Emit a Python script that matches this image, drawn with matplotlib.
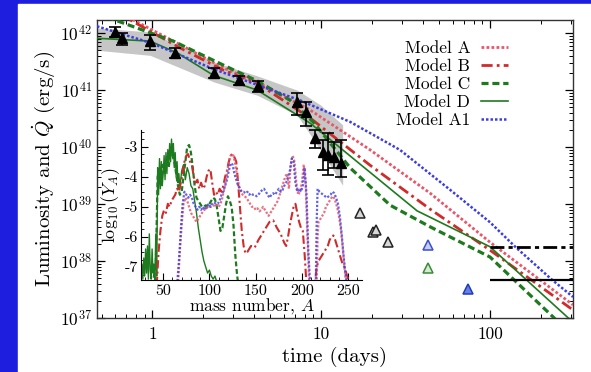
import numpy as np
import matplotlib.pyplot as plt
from matplotlib.patches import Rectangle
from matplotlib.ticker import LogLocator, NullFormatter, MultipleLocator

plt.rcParams['font.family'] = 'cmr10'
plt.rcParams['mathtext.fontset'] = 'cm'
plt.rcParams['axes.formatter.use_mathtext'] = True
plt.rcParams['axes.unicode_minus'] = False

# ---- light curves: time (days) and log10 L (erg/s)
t_A = [0.47, 0.772, 1.52, 2.63, 4.18, 8.6, 19.5, 44.2, 100, 310]
L_A = [42.56, 42.23, 41.77, 41.39, 41.14, 40.65, 39.95, 39.19, 38.33, 37.23]

t_B = [0.47, 0.741, 1.46, 2.63, 4.18, 8.6, 19.5, 44.2, 100, 310]
L_B = [42.55, 42.23, 41.74, 41.35, 41.12, 40.51, 39.68, 38.91, 38.19, 37.14]

t_C = [0.47, 0.60, 1.33, 2.63, 4.18, 6.56, 8.97, 14.9, 25.6, 44.2, 100, 236, 310]
L_C = [42.34, 42.23, 41.86, 41.44, 41.16, 40.82, 40.44, 39.63, 38.98, 38.60, 38.07, 37.02, 36.68]

t_D = [0.47, 0.97, 1.41, 2.30, 4.18, 8.6, 17.0, 37.0, 100, 286, 310]
L_D = [41.91, 41.86, 41.65, 41.26, 41.0, 40.42, 39.70, 38.88, 38.25, 37.02, 36.93]

t_A1 = [0.47, 1.0, 2.3, 4.2, 7.5, 14.9, 29.3, 58, 100, 141, 233, 310]
L_A1 = [42.12, 41.82, 41.37, 41.09, 40.82, 40.44, 39.95, 39.25, 38.68, 38.25, 37.67, 37.37]

# grey band around the bolometric light curve
t_band = [0.47, 0.97, 2.33, 4.18, 7.2, 9.9, 13.4]
band_hi = [42.09, 42.02, 41.49, 41.25, 41.0, 40.74, 40.39]
band_lo = [41.70, 41.61, 41.14, 40.91, 40.56, 39.95, 39.33]

# observed points (log10 L) with error bar ends
t_obs = [0.60, 0.66, 0.97, 1.37, 2.33, 3.27, 4.24, 7.21, 8.15, 9.2, 10.3, 11.0, 11.9, 13.1]
L_obs = [42.02, 41.91, 41.86, 41.65, 41.30, 41.18, 41.07, 40.79, 40.61, 40.16, 39.91, 39.86, 39.82, 39.72]
L_obs_lo = [41.93, 41.79, 41.70, 41.56, 41.21, 41.09, 40.96, 40.56, 40.37, 39.98, 39.60, 39.51, 39.63, 39.47]
L_obs_hi = [42.11, 42.00, 41.96, 41.74, 41.39, 41.25, 41.16, 40.95, 40.79, 40.30, 40.12, 40.25, 40.09, 40.12]

# later open triangles
t_late_k = [17.0, 20.3, 21.1, 24.9]
L_late_k = [38.84, 38.51, 38.54, 38.33]
t_late_b = [43.0]
L_late_b = [38.28]
t_late_g = [43.0]
L_late_g = [37.88]
t_late_b2 = [74.1]
L_late_b2 = [37.51]

# horizontal limits from t = 100 d
L_lim_dashdot = 38.25
L_lim_solid = 37.67
t_lim_start = 100

# ---- inset: final abundances log10(Y_A)
A_D = [26, 27, 28, 29, 30, 31, 32, 33, 34, 35,
       36, 37, 38, 39, 40, 41, 42, 43, 44, 45,
       46, 47, 48, 49, 50, 51, 52, 53, 54, 55,
       56, 57, 58, 59, 60, 61, 62, 63, 64, 65,
       66, 67, 68, 70, 72, 74, 76, 78, 80, 82,
       84, 86, 88, 90, 92, 94, 96, 98, 100, 102,
       104, 106, 108, 110]
Y_D = [-7.3, -6.9, -7.4, -6.7, -7.3, -6.4, -7.2, -6.3, -7.4, -5.9,
       -7.1, -7.4, -6.4, -7.2, -6.9, -7.5, -5.9, -7.3, -3.7, -4.6,
       -3.4, -4.4, -3.5, -4.3, -3.9, -3.3, -4.1, -3.2, -3.9, -3.1,
       -3.6, -2.9, -3.5, -2.75, -3.3, -2.9, -3.7, -3.2, -4.0, -3.5,
       -4.2, -3.9, -4.4, -3.8, -3.6, -4.1, -3.7, -3.9, -4.3, -4.4,
       -4.8, -5.2, -5.7, -6.1, -6.5, -6.8, -7.0, -7.2, -7.1, -7.3,
       -7.4, -7.3, -7.5, -7.6]

A_C = [38, 40, 42, 43, 44, 46, 48, 50, 52, 54,
       56, 58, 60, 62, 64, 66, 68, 70, 72, 74,
       76, 78, 80, 82, 84, 86, 88, 90, 92, 94,
       96, 98, 100, 102, 104, 106, 108, 110, 112, 114,
       116, 118, 120, 122, 124, 126, 128, 130, 132]
Y_C = [-7.6, -7.3, -6.9, -5.5, -4.0, -3.8, -4.1, -3.6, -3.9, -3.4,
       -3.7, -3.1, -3.3, -3.5, -3.9, -4.3, -4.6, -4.5, -4.0, -3.5,
       -3.0, -2.95, -3.2, -3.7, -4.3, -4.7, -4.8, -4.9, -5.0, -5.0,
       -4.95, -5.0, -4.9, -4.8, -4.7, -4.75, -5.0, -5.4, -5.8, -5.7,
       -5.3, -4.9, -4.65, -4.8, -5.0, -5.6, -6.6, -7.3, -7.7]

A_B = [43, 45, 47, 49, 51, 53, 55, 57, 59, 61,
       63, 65, 67, 69, 71, 73, 75, 77, 79, 81,
       83, 85, 87, 89, 91, 93, 95, 97, 99, 101,
       103, 105, 107, 109, 111, 113, 115, 117, 119, 121,
       123, 125, 127, 129, 131, 133, 135, 137, 139, 141,
       145, 149, 153, 157, 161, 165, 169, 173, 177, 181,
       183, 185, 187, 189, 191, 193, 195, 197, 199, 201,
       203, 205, 214, 216, 218, 220, 222, 224, 226, 228,
       230, 232, 234, 236, 238, 240, 242, 244, 246, 248,
       250, 252]
Y_B = [-7.6, -6.5, -5.8, -5.3, -5.1, -5.2, -4.9, -5.0, -4.8, -4.7,
       -4.6, -4.4, -4.5, -4.2, -3.9, -3.5, -3.3, -3.25, -3.5, -3.6,
       -4.0, -4.2, -4.1, -4.4, -4.2, -4.4, -4.3, -4.0, -3.8, -3.75,
       -4.2, -4.6, -4.5, -4.6, -4.4, -4.5, -4.3, -4.0, -3.8, -3.5,
       -3.3, -3.25, -3.35, -3.5, -4.2, -5.0, -5.8, -6.3, -6.55, -6.5,
       -6.3, -6.35, -6.1, -5.9, -5.7, -5.5, -5.45, -5.7, -5.9, -6.2,
       -6.3, -6.0, -5.6, -5.3, -5.0, -4.9, -5.2, -5.5, -5.7, -5.8,
       -6.6, -7.6, -7.6, -7.0, -6.8, -6.7, -6.6, -6.5, -6.4, -6.3,
       -6.1, -6.0, -5.95, -6.1, -6.3, -6.5, -6.7, -6.9, -7.0, -7.2,
       -7.4, -7.6]

A_A = [66, 68, 70, 72, 74, 76, 78, 80, 82, 84,
       86, 88, 90, 92, 94, 96, 98, 100, 102, 104,
       106, 108, 110, 112, 114, 116, 118, 120, 122, 124,
       126, 128, 130, 132, 134, 136, 138, 140, 142, 144,
       146, 148, 150, 152, 154, 156, 158, 160, 162, 164,
       166, 168, 170, 172, 174, 176, 178, 180, 182, 184,
       186, 188, 190, 192, 194, 196, 198, 200, 202, 204,
       206, 208, 216, 217, 218, 220, 222, 224, 226, 228,
       230, 232, 234, 236, 238, 240, 242, 244, 246, 248]
Y_A = [-7.6, -6.5, -5.6, -4.9, -4.7, -4.8, -5.0, -5.2, -5.3, -5.4,
       -5.5, -5.4, -5.3, -5.2, -5.1, -5.1, -5.0, -5.0, -5.0, -5.0,
       -4.9, -4.95, -5.0, -4.9, -4.7, -4.4, -4.1, -3.7, -3.35, -3.25,
       -3.3, -3.6, -4.0, -4.3, -4.5, -4.6, -4.65, -4.7, -4.8, -4.9,
       -5.0, -5.0, -5.1, -5.05, -5.15, -5.1, -5.0, -5.1, -5.2, -5.3,
       -5.2, -5.1, -5.0, -4.9, -4.8, -4.6, -4.4, -4.2, -4.0, -3.9,
       -4.4, -3.6, -3.3, -3.5, -4.2, -4.6, -4.5, -4.2, -3.6, -4.2,
       -6.0, -7.6, -7.6, -6.0, -5.5, -5.4, -5.3, -5.2, -5.0, -4.9,
       -4.8, -4.7, -4.65, -4.8, -5.0, -5.3, -5.7, -6.3, -7.0, -7.6]

A_A1 = [65, 67, 69, 71, 73, 75, 77, 79, 81, 83,
        85, 87, 89, 91, 93, 95, 97, 99, 101, 103,
        105, 107, 109, 111, 113, 115, 117, 119, 121, 123,
        125, 127, 129, 131, 133, 135, 137, 139, 141, 143,
        145, 147, 149, 151, 153, 155, 157, 159, 161, 163,
        165, 167, 169, 171, 173, 175, 177, 179, 181, 183,
        185, 187, 189, 191, 193, 195, 197, 199, 201, 203,
        205, 207, 209, 215, 216, 217, 219, 221, 223, 225,
        227, 229, 231, 233, 235, 237, 239, 241, 243, 245,
        247, 249]
Y_A1 = [-7.6, -6.8, -5.8, -4.9, -4.5, -4.6, -4.7, -4.6, -4.7, -4.9,
        -5.0, -5.1, -5.0, -5.1, -5.0, -5.1, -5.0, -4.9, -5.0, -4.9,
        -4.85, -4.9, -4.9, -4.8, -4.6, -4.5, -4.3, -4.1, -3.8, -3.55,
        -3.6, -3.9, -4.1, -4.3, -4.4, -4.5, -4.5, -4.55, -4.5, -4.6,
        -4.55, -4.6, -4.6, -4.65, -4.6, -4.5, -4.45, -4.4, -4.5, -4.6,
        -4.7, -4.6, -4.55, -4.6, -4.5, -4.4, -4.5, -4.45, -4.3, -4.2,
        -4.0, -3.8, -3.4, -3.5, -4.2, -4.5, -4.4, -4.5, -4.3, -3.7,
        -4.6, -6.5, -7.6, -7.6, -5.5, -4.4, -4.5, -4.55, -4.6, -4.65,
        -4.7, -4.65, -4.6, -4.5, -4.55, -4.7, -4.9, -5.3, -5.9, -6.6,
        -7.2, -7.6]

ins_yticks = [-3, -4, -5, -6, -7]
ins_xticks = [50, 100, 150, 200, 250]

red_light = '#e8566a'
red_dark = '#d02a2a'
green = '#1e7a1e'
blue = '#3c3ce6'

fig = plt.figure(figsize=(5.91, 3.72), dpi=100)
fig.patch.set_facecolor('#1e1ede')
fig.add_artist(Rectangle((18 / 591, 0), 1 - 18 / 591, 368 / 372,
                         transform=fig.transFigure, color='white', zorder=-5))

ax = fig.add_axes([97 / 591, 54 / 372, 476 / 591, 298 / 372])
ax.set_xscale('log')
ax.set_yscale('log')

p = lambda v: 10 ** np.asarray(v)

ax.fill_between(t_band, p(band_lo), p(band_hi), color='#b4b4b4', alpha=0.75, lw=0, zorder=1)

ax.plot(t_A, p(L_A), color=red_light, ls=(0, (1, 0.8)), lw=2.0, label='Model A', zorder=3)
ax.plot(t_B, p(L_B), color=red_dark, ls=(0, (4, 1.5, 1, 1.5)), lw=2.0, label='Model B', zorder=3)
ax.plot(t_C, p(L_C), color=green, ls=(0, (2.2, 1.2)), lw=2.3, label='Model C', zorder=3)
ax.plot(t_D, p(L_D), color=green, ls='-', lw=1.2, label='Model D', zorder=3)
ax.plot(t_A1, p(L_A1), color=blue, ls=(0, (1, 0.8)), lw=1.8, label='Model A1', zorder=3)

yerr = [p(L_obs) - p(L_obs_lo), p(L_obs_hi) - p(L_obs)]
ax.errorbar(t_obs, p(L_obs), yerr=yerr, fmt='^', color='black', ms=7,
            ecolor='black', elinewidth=1.2, capsize=4, capthick=1.2, zorder=5)

ax.plot(t_late_k, p(L_late_k), '^', ms=7, mfc='#d8d8d8', mec='#222222', mew=1.1, zorder=5)
ax.plot(t_late_b, p(L_late_b), '^', ms=7, mfc='#c8ccf4', mec='#3a50d0', mew=1.1, zorder=5)
ax.plot(t_late_g, p(L_late_g), '^', ms=7, mfc='#d4ecd4', mec='#3a8a3a', mew=1.1, zorder=5)
ax.plot(t_late_b2, p(L_late_b2), '^', ms=7, mfc='#6a80e0', mec='#1e3cc0', mew=1.1, zorder=5)

ax.hlines(p(L_lim_dashdot), t_lim_start, 310, colors='black', lw=2.0,
          linestyles=(0, (5, 1.5, 1.5, 1.5)), zorder=4)
ax.hlines(p(L_lim_solid), t_lim_start, 310, colors='black', lw=1.6, zorder=4)

ax.set_xlim(0.47, 310)
ax.set_ylim(1e37, 1.7e42)
ax.set_xticks([1, 10, 100])
ax.set_xticklabels(['1', '10', '100'])
ax.yaxis.set_major_locator(LogLocator(base=10, numticks=10))
ax.yaxis.set_minor_locator(LogLocator(base=10, subs=np.arange(2, 10), numticks=20))
ax.yaxis.set_minor_formatter(NullFormatter())
ax.tick_params(which='both', direction='in', top=True, right=True, labelsize=12.5)
ax.tick_params(which='major', length=6, width=0.9)
ax.tick_params(which='minor', length=3, width=0.7)
ax.tick_params(axis='x', pad=6)
for s in ax.spines.values():
    s.set_linewidth(1.0)
    s.set_color('#333333')

ax.set_xlabel('time (days)', fontsize=15, labelpad=4)
ax.set_ylabel(r'Luminosity and $\dot{Q}$ (erg/s)', fontsize=15, labelpad=2)

ax.legend(loc='upper right', bbox_to_anchor=(0.888, 0.97), frameon=False, fontsize=12.5,
          markerfirst=False, handlelength=1.55, handletextpad=0.6, labelspacing=0.15,
          borderpad=0.2)

# ---- inset
ins = fig.add_axes([141 / 591, 92 / 372, 221 / 591, 150 / 372])
ins.patch.set_alpha(0)
ins.plot(A_D, Y_D, color=green, lw=1.0, ls='-')
ins.plot(A_C, Y_C, color=green, lw=1.6, ls=(0, (2.2, 1.2)))
ins.plot(A_B, Y_B, color=red_dark, lw=1.5, ls=(0, (4, 1.5, 1, 1.5)))
ins.plot(A_A, Y_A, color=red_light, lw=1.6, ls=(0, (1, 0.8)), alpha=0.85)
ins.plot(A_A1, Y_A1, color=blue, lw=1.6, ls=(0, (1, 0.8)), alpha=0.8)
ins.set_xlim(26, 265)
ins.set_ylim(-7.43, -2.45)
ins.set_xticks(ins_xticks)
ins.set_xticklabels([str(v) for v in ins_xticks])
ins.set_yticks(ins_yticks)
ins.set_yticklabels(['-' + str(abs(v)) for v in ins_yticks])
ins.xaxis.set_minor_locator(MultipleLocator(10))
ins.yaxis.set_minor_locator(MultipleLocator(0.25))
ins.spines['top'].set_visible(False)
ins.spines['right'].set_visible(False)
ins.tick_params(which='both', direction='in', labelsize=11.5)
ins.tick_params(which='major', length=5)
ins.tick_params(which='minor', length=2.5)
ins.tick_params(axis='x', pad=3)
ins.tick_params(axis='y', pad=2)
ins.set_xlabel(r'mass number, $A$', fontsize=12.5, labelpad=-1)
ins.set_ylabel(r'$\log_{10}(Y_A)$', fontsize=13, labelpad=2)

fig.savefig('out.png', dpi=100)
